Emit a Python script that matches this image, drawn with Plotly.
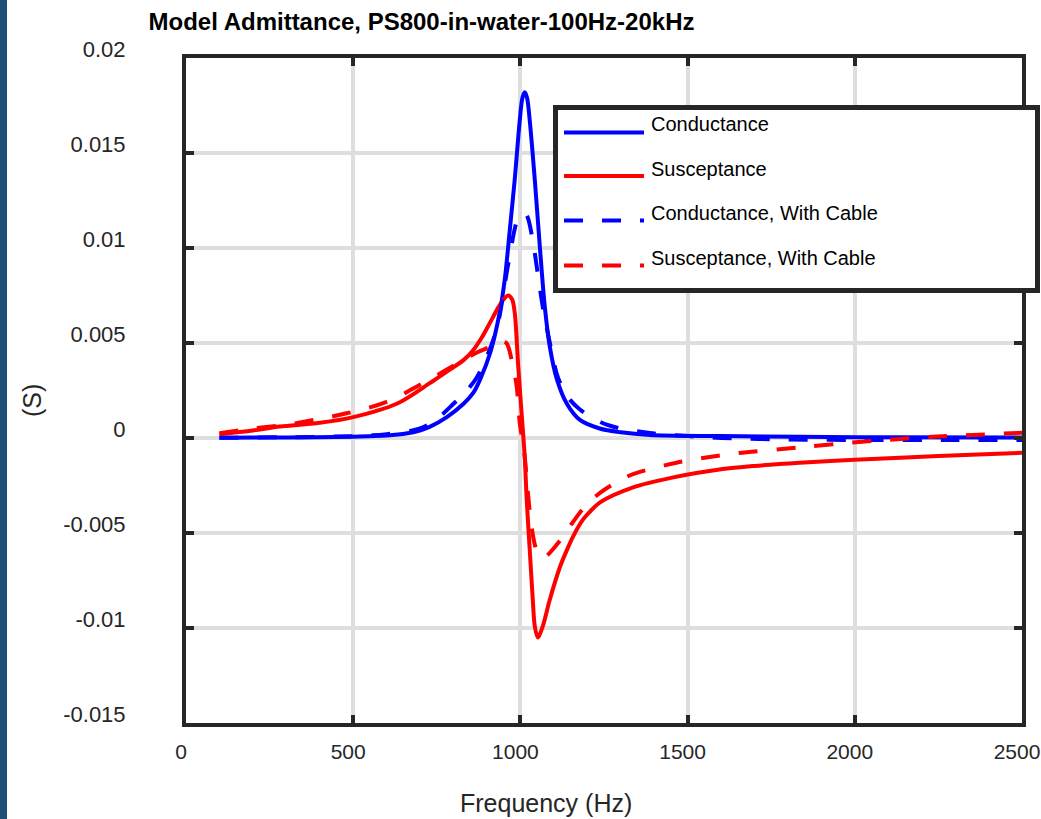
import plotly.graph_objects as go

# ---------------- data ----------------
freq_g = [100, 300, 500, 600, 680, 730, 780, 830, 860, 880, 910, 938, 953, 968, 983, 998,
          1006, 1013, 1020, 1028, 1043, 1058, 1073, 1088, 1109, 1139, 1178, 1237, 1300,
          1387, 1600, 1835, 2100, 2500]
g = [0.00001, 0.00003, 0.00007, 0.00013, 0.00030, 0.0006, 0.0011, 0.0018, 0.0024, 0.0031,
     0.0045, 0.0066, 0.0083, 0.0109, 0.0136, 0.0167, 0.0179, 0.0182, 0.0179, 0.0167, 0.0136,
     0.0101, 0.0069, 0.0048, 0.0031, 0.0018, 0.00095, 0.0005, 0.0003, 0.00016, 0.0001,
     0.00006, 0.00004, 0.00002]

freq_gc = [100, 300, 500, 600, 700, 750, 800, 840, 870, 900, 930, 962, 983, 993, 1005, 1015,
           1022, 1037, 1049, 1067, 1088, 1112, 1140, 1178, 1258, 1387, 1500, 1600, 1800,
           2000, 2300, 2500]
gc = [0.00001, 0.00004, 0.0001, 0.0002, 0.0005, 0.0010, 0.0018, 0.0025, 0.0032, 0.0043,
      0.0058, 0.0090, 0.0110, 0.0116, 0.0118, 0.0118, 0.0116, 0.0104, 0.0090, 0.0069, 0.0050,
      0.0032, 0.0022, 0.0015, 0.0007, 0.00026, 0.0001, 0.0, -0.00008, -0.0001, -0.0001,
      -0.0001]

freq_b = [100, 200, 281, 400, 500, 630, 730, 780, 830, 860, 885, 910, 935, 950, 963, 975,
          983, 993, 1004, 1013, 1019, 1028, 1037, 1043, 1052, 1067, 1088, 1118, 1139, 1157,
          1187, 1207, 1237, 1337, 1450, 1600, 1700, 1835, 2000, 2250, 2500]
b = [0.0002, 0.0004, 0.0006, 0.0008, 0.0011, 0.0018, 0.0029, 0.0035, 0.0041, 0.00465,
     0.0053, 0.0061, 0.0069, 0.0073, 0.0075, 0.0073, 0.0066, 0.0039, 0.0012, -0.0010,
     -0.0033, -0.0059, -0.0085, -0.0099, -0.0105, -0.0099, -0.0085, -0.0068, -0.0059,
     -0.0052, -0.0043, -0.0039, -0.0034, -0.0026, -0.0021, -0.00165, -0.00147, -0.0013,
     -0.00115, -0.00095, -0.00078]

freq_bc = [100, 200, 300, 480, 600, 700, 780, 870, 909, 938, 958, 974, 989, 998, 1005, 1013,
           1022, 1032, 1043, 1055, 1070, 1085, 1100, 1127, 1154, 1193, 1237, 1290, 1337,
           1467, 1566, 1650, 1835, 1993, 2233, 2500]
bc = [0.00025, 0.0005, 0.0007, 0.0013, 0.0019, 0.0028, 0.0036, 0.0045, 0.0048, 0.0051,
      0.0050, 0.0041, 0.0027, 0.0008, 0.0000, -0.0010, -0.0028, -0.0045, -0.0056, -0.0062,
      -0.0063, -0.0061, -0.0058, -0.0052, -0.0045, -0.0036, -0.0029, -0.0023, -0.0019,
      -0.0013, -0.0010, -0.0008, -0.0005, -0.00024, 0.00006, 0.00027]

series_names = ["Conductance", "Susceptance", "Conductance, With Cable", "Susceptance, With Cable"]
series_colors = ["#0000ff", "#ff0000", "#0000ff", "#ff0000"]
series_dash = ["solid", "solid", "19px,19px", "19px,19px"]

x_ticks = [0, 500, 1000, 1500, 2000, 2500]
y_ticks = [-0.015, -0.01, -0.005, 0, 0.005, 0.01, 0.015, 0.02]
y_tick_text = ["-0.015", "-0.01", "-0.005", "0", "0.005", "0.01", "0.015", "0.02"]

title_text = "Model Admittance, PS800-in-water-100Hz-20kHz"
x_title = "Frequency (Hz)"
y_title = "(S)"

# ---------------- layout geometry ----------------
W, H = 1041, 819
PL, PR, PT, PB = 186, 1022, 58, 723
FONT = "Liberation Sans, Arial, Helvetica, sans-serif"
AX = "#262626"


def xp(px):
    return (px - PL) / (PR - PL)


def yp(py):
    return (PB - py) / (PB - PT)


fig = go.Figure()
data = [(freq_g, g), (freq_b, b), (freq_gc, gc), (freq_bc, bc)]
for (fx, fy), name, col, dash in zip(data, series_names, series_colors, series_dash):
    fig.add_trace(go.Scatter(x=fx, y=fy, mode="lines", name=name,
                             line=dict(color=col, width=4, dash=dash, shape="spline",
                                       smoothing=0.9),
                             showlegend=False))

axis_common = dict(showline=True, linewidth=4, linecolor=AX, mirror="ticks",
                   ticks="inside", ticklen=8, tickwidth=4, tickcolor=AX,
                   showgrid=True, gridcolor="#dedede", gridwidth=4, zeroline=False,
                   automargin=False, ticklabeloverflow="allow")

fig.update_xaxes(range=[0, 2500], tickvals=x_ticks, ticktext=[str(v) for v in x_ticks],
                 ticklabelstandoff=7, ticklabelshift=-5,
                 tickfont=dict(family=FONT, size=21, color=AX), **axis_common)
fig.update_yaxes(range=[-0.015, 0.02], tickvals=y_ticks, ticktext=y_tick_text,
                 ticklabelstandoff=52, ticklabelshift=-9,
                 tickfont=dict(family=FONT, size=22, color=AX), **axis_common)

shapes = []
# left blue stripe of the window
shapes.append(dict(type="rect", xref="paper", yref="paper",
                   x0=xp(-2), x1=xp(7), y0=yp(H + 2), y1=yp(-2),
                   fillcolor="#1f4e79", line=dict(width=0), layer="above"))
# legend box
shapes.append(dict(type="rect", xref="paper", yref="paper",
                   x0=xp(555.5), x1=xp(1037.5), y0=yp(290.5), y1=yp(107.5),
                   fillcolor="white", line=dict(color=AX, width=5), layer="above"))
annotations = []
line_y = [132.5, 176, 220.5, 265.5]
text_y = [124.5, 168.5, 212.5, 257.5]
for name, col, dash, ly, ty in zip(series_names, series_colors, series_dash, line_y, text_y):
    shapes.append(dict(type="line", xref="paper", yref="paper",
                       x0=xp(564), x1=xp(644), y0=yp(ly), y1=yp(ly),
                       line=dict(color=col, width=4, dash=dash), layer="above"))
    annotations.append(dict(text=name, xref="paper", yref="paper", x=xp(649), y=yp(ty),
                            xanchor="left", yanchor="middle", showarrow=False,
                            font=dict(family=FONT, size=20, color="#000000")))

annotations.append(dict(text=x_title, xref="paper", yref="paper", x=xp(546), y=yp(803),
                        xanchor="center", yanchor="middle", showarrow=False,
                        font=dict(family=FONT, size=25, color=AX)))
annotations.append(dict(text=y_title, xref="paper", yref="paper", x=xp(32), y=yp(401),
                        xanchor="center", yanchor="middle", showarrow=False, textangle=-90,
                        font=dict(family=FONT, size=25, color=AX)))

fig.update_layout(
    width=W, height=H,
    margin=dict(l=PL, r=W - PR, t=PT, b=H - PB, autoexpand=False),
    paper_bgcolor="white", plot_bgcolor="white",
    title=dict(text="<b>" + title_text + "</b>", xref="container", yref="container",
               x=421.5 / W, y=1 - 22 / H, xanchor="center", yanchor="middle",
               font=dict(family=FONT, size=24, color="#000000")),
    shapes=shapes, annotations=annotations, showlegend=False,
)

fig.write_html("out.html")
